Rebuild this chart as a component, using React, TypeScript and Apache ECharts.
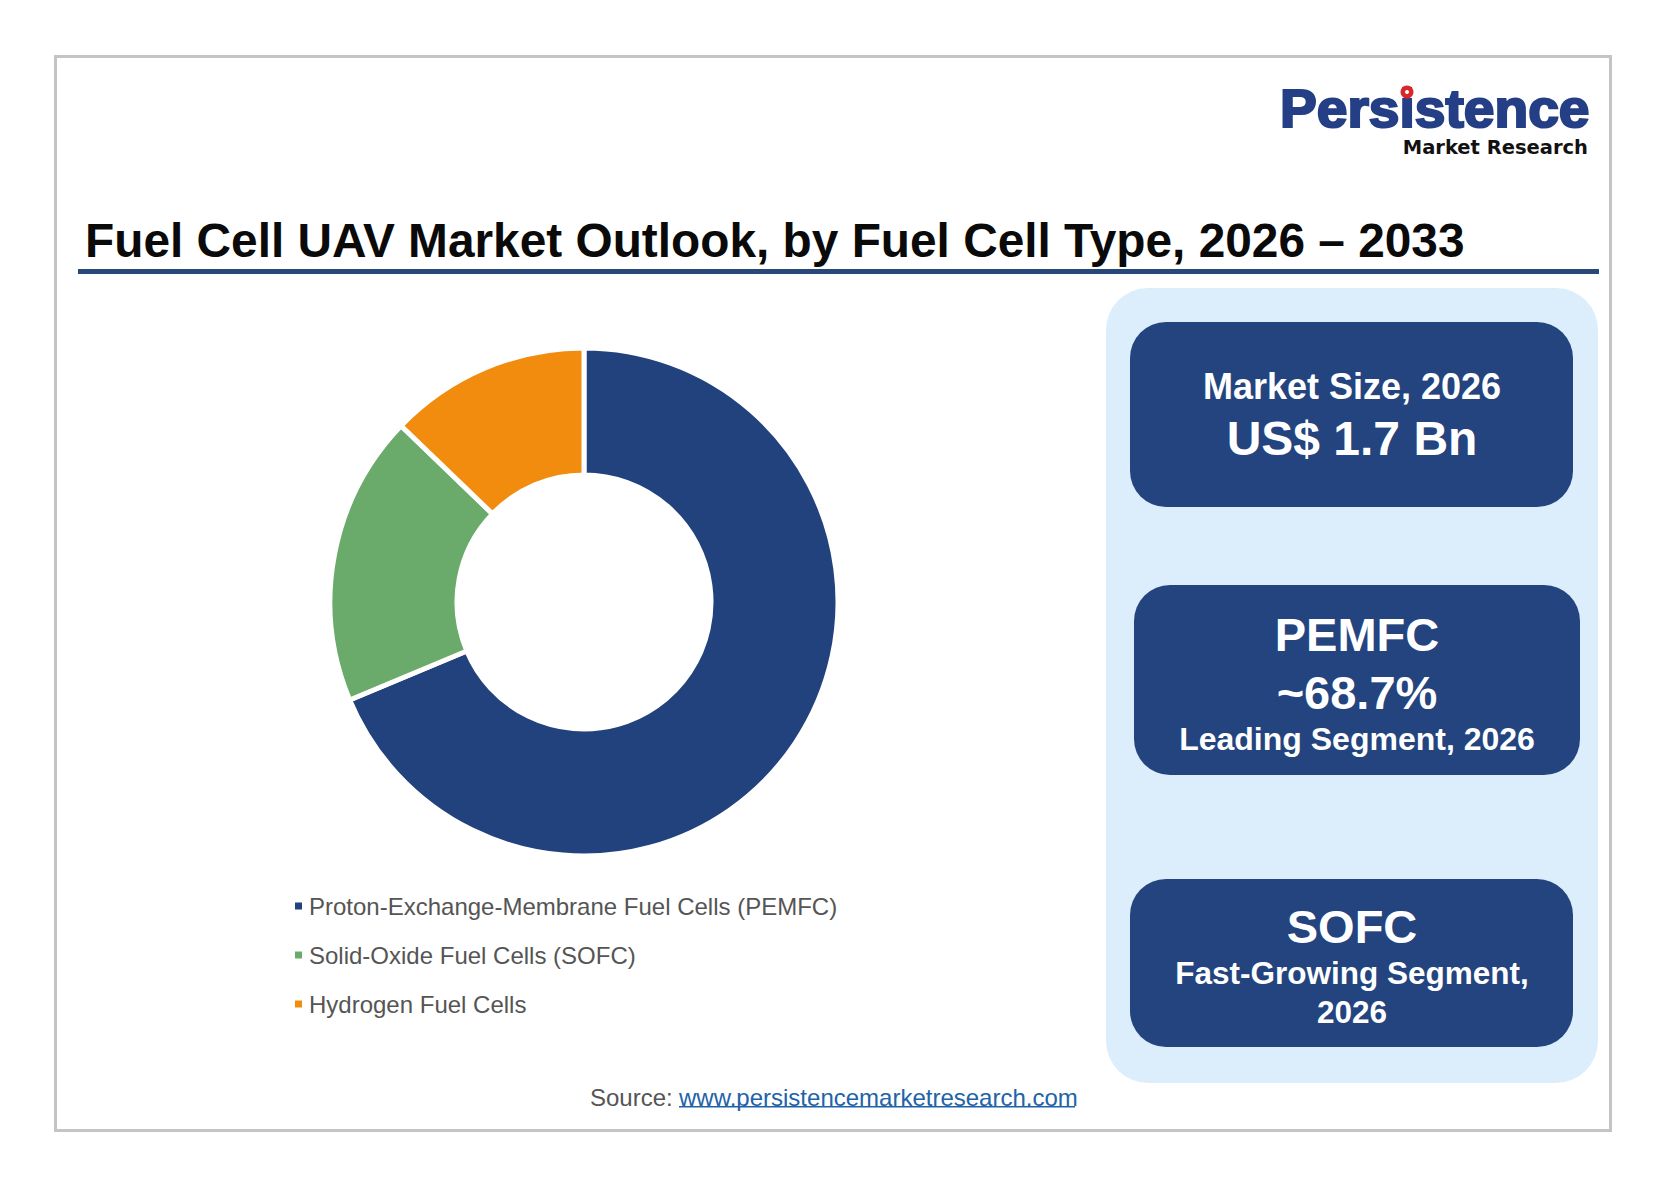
import React, { useEffect, useRef } from "react";
import * as echarts from "echarts";

const segments = [
  "Proton-Exchange-Membrane Fuel Cells (PEMFC)",
  "Solid-Oxide Fuel Cells (SOFC)",
  "Hydrogen Fuel Cells",
];
const shares = [68.7, 18.5, 12.8];
const segmentColors = ["#22427d", "#6aaa6a", "#f28c0f"];

const titleText = "Fuel Cell UAV Market Outlook, by Fuel Cell Type, 2026 \u2013 2033";
const box1Lines = ["Market Size, 2026", "US$ 1.7 Bn"];
const box2Lines = ["PEMFC", "~68.7%", "Leading Segment, 2026"];
const box3Lines = ["SOFC", "Fast-Growing Segment,", "2026"];

const NAVY = "#23447f";
const FONT = "Liberation Sans, Arial, sans-serif";

function txt(x: number, y: number, text: string, size: number, color: string, align = "center", weight: any = "bold", extra: any = {}, el: any = {}) {
  return {
    type: "text",
    x,
    y,
    style: {
      text,
      fill: color,
      fontSize: size,
      fontWeight: weight,
      fontFamily: FONT,
      textAlign: align,
      textVerticalAlign: "middle",
      ...extra,
    },
    z: 10,
    ...el,
  };
}

export default function App() {
  const ref = useRef<HTMLDivElement>(null);
  useEffect(() => {
    document.body.style.margin = "0";
    const chart = echarts.init(ref.current!, null, { renderer: "svg" });
    const option: any = {
      animation: false,
      backgroundColor: "#ffffff",
      legend: {
        orient: "vertical",
        left: 288,
        top: 889,
        itemWidth: 9,
        itemHeight: 9,
        itemGap: 25,
        icon: "rect",
        selectedMode: false,
        textStyle: { fontSize: 24, color: "#555555", fontFamily: FONT, padding: [0, 0, 0, 1] },
        data: segments,
      },
      series: [
        {
          type: "pie",
          center: [584, 602],
          radius: [127, 254],
          startAngle: 90,
          clockwise: true,
          silent: true,
          label: { show: false },
          labelLine: { show: false },
          itemStyle: { borderColor: "#ffffff", borderWidth: 5 },
          data: segments.map((name, i) => ({
            name,
            value: shares[i],
            itemStyle: { color: segmentColors[i] },
          })),
        },
      ],
      graphic: [
        {
          type: "rect",
          shape: { x: 55.5, y: 56.5, width: 1555, height: 1074 },
          style: { fill: "none", stroke: "#c4c4c4", lineWidth: 3 },
          z: 1,
        },
        // logo
        txt(1280, 108.5, "Persistence", 53, "#243f85", "left", "bold", { stroke: "#243f85", lineWidth: 2.2, lineHeight: 40 }, { scaleX: 1.04 }),
        { type: "circle", shape: { cx: 1407, cy: 92, r: 6.5 }, style: { fill: "#d9262b" }, z: 11 },
        { type: "circle", shape: { cx: 1407, cy: 92, r: 2 }, style: { fill: "#ffffff" }, z: 12 },
        txt(1588, 147, "Market Research", 19.5, "#111111", "right", "bold", { fontFamily: "DejaVu Sans", lineHeight: 18 }),
        // title
        txt(85, 240, titleText, 47.8, "#0a0a0a", "left"),
        { type: "rect", shape: { x: 78, y: 269, width: 1521, height: 5 }, style: { fill: "#284878" }, z: 2 },
        // right panel
        { type: "rect", shape: { x: 1106, y: 288, width: 492, height: 795, r: 42 }, style: { fill: "#dceefb" }, z: 2 },
        { type: "rect", shape: { x: 1130, y: 322, width: 443, height: 185, r: 36 }, style: { fill: NAVY }, z: 3 },
        { type: "rect", shape: { x: 1134, y: 585, width: 446, height: 190, r: 36 }, style: { fill: NAVY }, z: 3 },
        { type: "rect", shape: { x: 1130, y: 879, width: 443, height: 168, r: 36 }, style: { fill: NAVY }, z: 3 },
        txt(1352, 386, box1Lines[0], 36, "#ffffff"),
        txt(1352, 438, box1Lines[1], 48, "#ffffff"),
        txt(1357, 634, box2Lines[0], 47, "#ffffff"),
        txt(1357, 692, box2Lines[1], 47, "#ffffff"),
        txt(1357, 739, box2Lines[2], 32, "#ffffff"),
        txt(1352, 926, box3Lines[0], 47, "#ffffff"),
        txt(1352, 973, box3Lines[1], 31.5, "#ffffff"),
        txt(1352, 1012, box3Lines[2], 31.5, "#ffffff"),
        // source
        txt(590, 1097, "Source: ", 24, "#555555", "left", "normal"),
        txt(679, 1097, "www.persistencemarketresearch.com", 24, "#2163a8", "left", "normal"),
        { type: "rect", shape: { x: 679, y: 1106, width: 396, height: 1.5 }, style: { fill: "#2163a8" }, z: 10 },
      ],
    };
    chart.setOption(option);
    return () => chart.dispose();
  }, []);
  return <div ref={ref} style={{ width: 1668, height: 1188 }} />;
}
